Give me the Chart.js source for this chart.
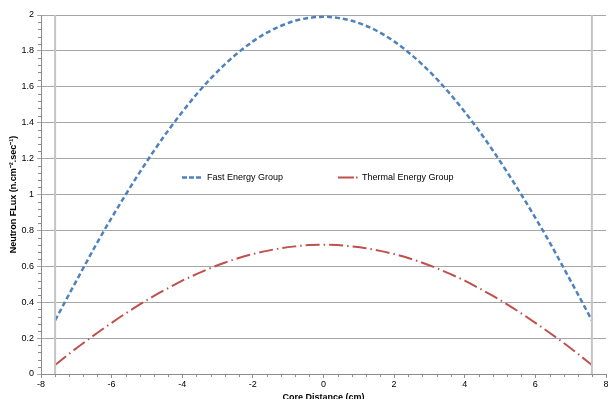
<!DOCTYPE html>
<html>
<head>
<meta charset="utf-8">
<script src="https://cdn.jsdelivr.net/npm/chart.js@4.4.0/dist/chart.umd.min.js"></script>
<style>
  html, body { margin: 0; padding: 0; background: #fff; }
  #wrap { width: 608px; height: 399px; }
</style>
</head>
<body>
<div id="wrap"><canvas id="fluxChart" width="608" height="399"></canvas></div>
<script>
// core distance (cm)
const coreDistance = [-7.6, -7.2, -6.8, -6.4, -6.0, -5.6, -5.2, -4.8, -4.4, -4.0, -3.6, -3.2, -2.8, -2.4, -2.0, -1.6, -1.2, -0.8, -0.4, 0,
  0.4, 0.8, 1.2, 1.6, 2.0, 2.4, 2.8, 3.2, 3.6, 4.0, 4.4, 4.8, 5.2, 5.6, 6.0, 6.4, 6.8, 7.2, 7.6];
const fastFlux = [0.299, 0.446, 0.591, 0.735, 0.870, 1.000, 1.125, 1.244, 1.356, 1.460, 1.557, 1.645, 1.724, 1.793, 1.853, 1.902, 1.940, 1.968, 1.984, 1.990,
  1.984, 1.968, 1.940, 1.902, 1.853, 1.793, 1.724, 1.645, 1.557, 1.460, 1.356, 1.244, 1.125, 1.000, 0.870, 0.735, 0.591, 0.446, 0.299];
const thermalFlux = [0.050, 0.113, 0.173, 0.230, 0.285, 0.338, 0.388, 0.435, 0.478, 0.520, 0.556, 0.590, 0.620, 0.646, 0.668, 0.686, 0.701, 0.711, 0.718, 0.720,
  0.718, 0.711, 0.701, 0.686, 0.668, 0.646, 0.620, 0.590, 0.556, 0.520, 0.478, 0.435, 0.388, 0.338, 0.285, 0.230, 0.173, 0.113, 0.050];
// core boundaries
const boundaryX = [-7.6, 7.6];
const boundaryY = [0, 2];
const seriesNames = ['Fast Energy Group', 'Thermal Energy Group'];

const FONT = 'Liberation Sans, Arial, sans-serif';
const BLUE = '#4f81bd';
const RED = '#c0504d';

function toPoints(xs, ys) {
  return xs.map((x, i) => ({ x: x, y: ys[i] }));
}

const datasets = boundaryX.map(bx => ({
  data: boundaryY.map(y => ({ x: bx, y: y })),
  borderColor: '#c4c4c4',
  borderWidth: 2,
  pointRadius: 0,
  showLine: true
}));
datasets.push({
  label: seriesNames[0],
  data: toPoints(coreDistance, fastFlux),
  borderColor: BLUE,
  borderWidth: 2.5,
  borderDash: [5, 3],
  pointRadius: 0,
  showLine: true,
  tension: 0.4,
  cubicInterpolationMode: 'monotone'
});
datasets.push({
  label: seriesNames[1],
  data: toPoints(coreDistance, thermalFlux),
  borderColor: RED,
  borderWidth: 2,
  borderDash: [14, 4, 1.5, 4],
  pointRadius: 0,
  showLine: true,
  tension: 0.4,
  cubicInterpolationMode: 'monotone'
});

// minor ticks + legend inside the plot
const extras = {
  id: 'extras',
  afterDraw(chart) {
    const ctx = chart.ctx;
    const xs = chart.scales.x, ys = chart.scales.y;
    const area = chart.chartArea;
    ctx.save();
    ctx.strokeStyle = '#8c8c8c';
    ctx.lineWidth = 1;
    ctx.beginPath();
    for (let i = 0; i <= 50; i++) {
      if (i % 5 === 0) continue;
      const py = Math.round(ys.getPixelForValue(i * 0.04)) + 0.5;
      ctx.moveTo(area.left - 3, py);
      ctx.lineTo(area.left, py);
    }
    for (let i = 0; i <= 40; i++) {
      if (i % 5 === 0) continue;
      const px = Math.round(xs.getPixelForValue(-8 + i * 0.4)) + 0.5;
      ctx.moveTo(px, area.bottom);
      ctx.lineTo(px, area.bottom + 3);
    }
    ctx.stroke();

    // legend
    const ly = 177.5;
    ctx.font = '9px ' + FONT;
    ctx.fillStyle = '#000';
    ctx.textBaseline = 'middle';
    ctx.lineWidth = 2.5;
    ctx.strokeStyle = BLUE;
    ctx.setLineDash([5, 2]);
    ctx.beginPath();
    ctx.moveTo(182, ly);
    ctx.lineTo(201, ly);
    ctx.stroke();
    ctx.fillText(seriesNames[0], 207, ly);

    ctx.lineWidth = 2;
    ctx.strokeStyle = RED;
    ctx.setLineDash([16, 2, 1.5, 10]);
    ctx.beginPath();
    ctx.moveTo(338, ly);
    ctx.lineTo(359, ly);
    ctx.stroke();
    ctx.setLineDash([]);
    ctx.fillText(seriesNames[1], 362, ly);
    ctx.restore();
  }
};

new Chart(document.getElementById('fluxChart'), {
  type: 'scatter',
  data: { datasets: datasets },
  options: {
    responsive: false,
    animation: false,
    layout: { padding: { top: 15, right: 2, left: 0, bottom: 0 } },
    plugins: {
      legend: { display: false },
      tooltip: { enabled: false }
    },
    scales: {
      x: {
        type: 'linear',
        min: -8,
        max: 8,
        afterFit(scale) {
          scale.height = 25;
          scale.paddingRight = 0;
          scale.paddingLeft = 0;
        },
        ticks: {
          stepSize: 2,
          padding: 1,
          color: '#000',
          font: { family: FONT, size: 9 },
          maxRotation: 0
        },
        grid: {
          drawOnChartArea: false,
          tickLength: 4,
          color: '#8c8c8c'
        },
        border: { color: '#8c8c8c', width: 1 },
        title: {
          display: true,
          text: 'Core Distance (cm)',
          color: '#000',
          font: { family: FONT, size: 9, weight: 'bold' },
          padding: { top: 0, bottom: -4 }
        }
      },
      y: {
        min: 0,
        max: 2,
        afterFit(scale) {
          scale.width = 41;
        },
        ticks: {
          stepSize: 0.2,
          padding: 3,
          color: '#000',
          font: { family: FONT, size: 9 },
          callback: v => String(Math.round(v * 10) / 10)
        },
        grid: {
          color: '#a6a6a6',
          lineWidth: 1,
          tickLength: 4
        },
        border: { color: '#8c8c8c', width: 1 },
        title: {
          display: true,
          text: 'Neutron FLux (n.cm\u207B\u00B2.sec\u207B\u00B9)',
          color: '#000',
          font: { family: FONT, size: 9, weight: 'bold' },
          padding: { top: 8, bottom: 0 }
        }
      }
    }
  },
  plugins: [extras]
});
</script>
</body>
</html>
